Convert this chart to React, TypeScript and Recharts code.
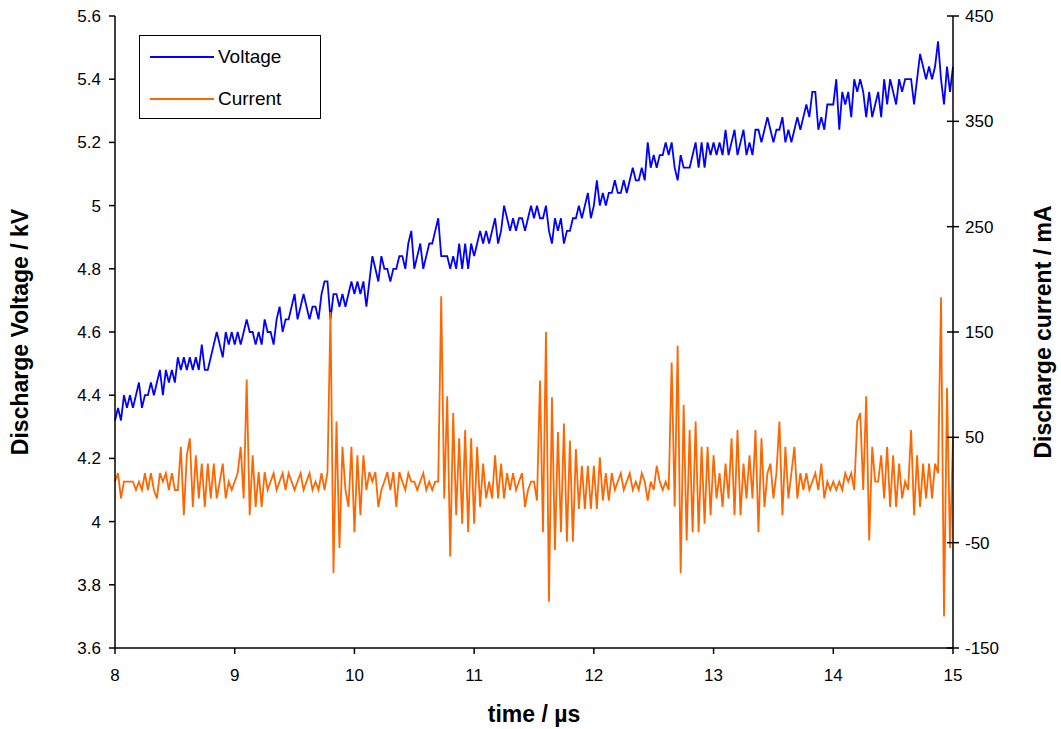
import { LineChart, Line, XAxis, YAxis, Legend } from "recharts";

const FONT = '"Liberation Sans", Arial, sans-serif';

// sampling of the recorded traces
const timeStart = 8;
const timeStep = 0.025;

const xTicks = [8, 9, 10, 11, 12, 13, 14, 15];
const voltageTicks = [3.6, 3.8, 4, 4.2, 4.4, 4.6, 4.8, 5, 5.2, 5.4, 5.6];
const currentTicks = [-150, -50, 50, 150, 250, 350, 450];
const legendOrder = ["Voltage", "Current"];

// discharge voltage, kV
const voltage = [
  4.32, 4.36, 4.32, 4.40, 4.36, 4.40, 4.36, 4.40, 4.44, 4.36, 4.40, 4.40, 4.44, 4.40, 4.44, 4.48, 4.40, 4.48, 4.44, 4.48,
  4.44, 4.52, 4.48, 4.52, 4.48, 4.52, 4.48, 4.52, 4.48, 4.56, 4.48, 4.48, 4.52, 4.56, 4.60, 4.56, 4.52, 4.60, 4.56, 4.60,
  4.56, 4.60, 4.56, 4.60, 4.64, 4.60, 4.60, 4.56, 4.60, 4.56, 4.64, 4.60, 4.60, 4.56, 4.64, 4.68, 4.60, 4.64, 4.64, 4.68,
  4.72, 4.64, 4.68, 4.72, 4.68, 4.64, 4.68, 4.68, 4.64, 4.72, 4.76, 4.76, 4.64, 4.72, 4.72, 4.68, 4.72, 4.68, 4.72, 4.76,
  4.72, 4.76, 4.72, 4.76, 4.68, 4.76, 4.84, 4.80, 4.76, 4.84, 4.80, 4.80, 4.76, 4.80, 4.80, 4.84, 4.84, 4.80, 4.88, 4.92,
  4.80, 4.84, 4.88, 4.80, 4.84, 4.88, 4.88, 4.92, 4.96, 4.84, 4.84, 4.84, 4.80, 4.84, 4.80, 4.88, 4.80, 4.88, 4.80, 4.88,
  4.84, 4.88, 4.92, 4.88, 4.92, 4.88, 4.92, 4.96, 4.88, 4.92, 5.00, 4.96, 4.92, 4.96, 4.92, 4.96, 4.96, 4.92, 4.96, 5.00,
  4.96, 5.00, 4.96, 4.96, 5.00, 4.92, 4.88, 4.96, 4.92, 4.96, 4.88, 4.92, 4.92, 4.96, 4.96, 5.00, 4.96, 5.00, 5.04, 4.96,
  5.00, 5.08, 5.00, 5.04, 5.00, 5.04, 5.04, 5.08, 5.04, 5.04, 5.08, 5.04, 5.08, 5.12, 5.08, 5.08, 5.12, 5.08, 5.20, 5.12,
  5.16, 5.12, 5.16, 5.16, 5.20, 5.16, 5.20, 5.12, 5.08, 5.16, 5.12, 5.12, 5.12, 5.16, 5.20, 5.12, 5.20, 5.12, 5.20, 5.16,
  5.20, 5.16, 5.20, 5.16, 5.24, 5.16, 5.20, 5.24, 5.16, 5.20, 5.24, 5.16, 5.20, 5.16, 5.24, 5.24, 5.20, 5.24, 5.28, 5.24,
  5.20, 5.24, 5.24, 5.28, 5.20, 5.24, 5.20, 5.24, 5.28, 5.24, 5.28, 5.32, 5.28, 5.36, 5.36, 5.24, 5.28, 5.24, 5.32, 5.32,
  5.32, 5.40, 5.24, 5.36, 5.32, 5.36, 5.28, 5.40, 5.36, 5.40, 5.36, 5.28, 5.36, 5.28, 5.32, 5.36, 5.28, 5.40, 5.32, 5.40,
  5.36, 5.32, 5.40, 5.36, 5.40, 5.40, 5.40, 5.32, 5.40, 5.48, 5.44, 5.40, 5.44, 5.40, 5.44, 5.52, 5.40, 5.32, 5.44, 5.36,
  5.44,
];

// discharge current, mA
const current = [
  8, 16, -8, 8, 8, 8, 8, 0, 8, 0, 16, 0, 16, 0, -8, 16, 8, 16, 0, 16,
  0, 0, 41, -24, 33, 49, -16, 33, -8, 25, -16, 25, -8, 25, -8, 8, 25, -8, 8, 0,
  8, 16, 41, -8, 105, -24, 33, -16, 17, -16, 17, 0, 8, 16, 0, 8, 16, 0, 16, 8,
  0, 8, 16, 0, 8, 16, 0, 8, 0, 16, 0, 17, 169, -79, 65, -55, 41, 0, -16, 41,
  -40, 33, -24, 33, 0, 17, 8, 17, -16, 0, 8, 17, 0, 17, -16, 17, 8, 0, 16, 8,
  8, 0, 8, 16, 0, 8, 0, 8, 8, 184, -8, 89, -63, 73, -24, 49, -32, 57, -40, 49,
  -32, 41, -16, 25, -8, 8, -8, 33, -8, 25, -8, 16, 0, 16, 0, 8, 16, -16, 0, 8,
  8, -10, 104, -40, 150, -106, 88, -57, 55, -40, 63, -49, 47, -49, 39, -18, 23, -18, 23, -18,
  23, -18, 31, -10, 16, -10, 16, 0, 8, 16, 0, 8, 16, 0, 8, 0, 16, 8, -10, 8,
  0, 23, 8, 0, 8, 0, 121, -16, 137, -79, 81, -48, 57, -40, 65, -40, 41, -32, 41, -24,
  33, -8, 16, -16, 25, -8, 49, -24, 57, -24, 25, -8, 33, -8, 57, -40, 49, -16, 16, 25,
  -8, 16, 65, -24, 41, -8, 16, 41, -8, 16, 0, 16, 0, 8, 16, 0, 25, -8, 8, 0,
  8, 0, 8, 0, 16, 8, 16, 0, 65, 73, 0, 89, -48, 41, 8, 8, 33, -8, 41, -16,
  33, -16, 25, -8, 8, 0, 57, -24, 33, -16, 25, -8, 25, -8, 25, 16, 183, -120, 97, -55,
  49,
];

const data = voltage.map((v, i) => ({
  t: Number((timeStart + i * timeStep).toFixed(3)),
  voltage: v,
  current: current[i],
}));

// right axis ticks cross the axis line
function RightTick(props: any) {
  const { x, y, payload } = props;
  const ax = x - 12;
  return (
    <g>
      <line x1={ax - 6} x2={ax + 6} y1={y} y2={y} stroke="#000" strokeWidth={1.5} />
      <text x={x} y={y} dy="0.36em" textAnchor="start" fontSize={17} fill="#000" fontFamily={FONT}>
        {payload.value}
      </text>
    </g>
  );
}

function LegendBox(props: any) {
  const items = [...(props.payload || [])].sort(
    (a: any, b: any) => legendOrder.indexOf(a.value) - legendOrder.indexOf(b.value)
  );
  return (
    <div
      style={{
        width: 180,
        height: 82,
        border: "1px solid #000",
        background: "#fff",
        fontFamily: FONT,
        fontSize: 19,
        position: "relative",
      }}
    >
      {items.map((it: any, i: number) => (
        <div
          key={it.value}
          style={{ position: "absolute", left: 10, top: 9 + i * 42, height: 24, display: "flex", alignItems: "center" }}
        >
          <svg width={64} height={4} style={{ display: "block" }}>
            <line x1={0} x2={64} y1={2} y2={2} stroke={it.color} strokeWidth={1.8} />
          </svg>
          <span style={{ marginLeft: 4, color: "#000" }}>{it.value}</span>
        </div>
      ))}
    </div>
  );
}

export default function App() {
  return (
    <div style={{ position: "absolute", left: 0, top: 0, width: 1061, height: 729, background: "#fff" }}>
      <LineChart
        width={1061}
        height={729}
        data={data}
        margin={{ top: 16, right: 0, bottom: 0, left: 0 }}
        style={{ fontFamily: FONT }}
      >
        <XAxis
          dataKey="t"
          type="number"
          domain={[8, 15]}
          ticks={xTicks}
          height={81}
          tickSize={6}
          tickMargin={15}
          stroke="#000"
          axisLine={{ stroke: "#000", strokeWidth: 1.5 }}
          tickLine={{ stroke: "#000", strokeWidth: 1.5 }}
          tick={{ fill: "#000", fontSize: 17 }}
          label={{
            value: "time / µs",
            position: "insideBottom",
            offset: 7,
            style: { fontWeight: "bold", fontSize: 23, fill: "#000" },
          }}
        />
        <YAxis
          yAxisId="v"
          orientation="left"
          width={115}
          domain={[3.6, 5.6]}
          ticks={voltageTicks}
          allowDataOverflow
          tickSize={6}
          tickMargin={8}
          stroke="#000"
          axisLine={{ stroke: "#000", strokeWidth: 1.5 }}
          tickLine={{ stroke: "#000", strokeWidth: 1.5 }}
          tick={{ fill: "#000", fontSize: 17 }}
          label={{
            value: "Discharge Voltage / kV",
            angle: -90,
            position: "insideLeft",
            offset: 20,
            style: { textAnchor: "middle", fontWeight: "bold", fontSize: 23, fill: "#000" },
          }}
        />
        <YAxis
          yAxisId="i"
          orientation="right"
          width={108}
          domain={[-150, 450]}
          ticks={currentTicks}
          allowDataOverflow
          tickSize={6}
          tickMargin={6}
          stroke="#000"
          axisLine={{ stroke: "#000", strokeWidth: 1.5 }}
          tickLine={false}
          tick={RightTick}
          label={{
            value: "Discharge current / mA",
            angle: -90,
            position: "insideRight",
            offset: 18,
            style: { textAnchor: "middle", fontWeight: "bold", fontSize: 23, fill: "#000" },
          }}
        />
        <Legend
          layout="horizontal"
          verticalAlign="middle"
          align="center"
          content={<LegendBox />}
          wrapperStyle={{ left: 139, top: 35, width: 182, height: 84 }}
        />
        <Line
          yAxisId="v"
          type="linear"
          dataKey="voltage"
          name="Voltage"
          stroke="#0000FF"
          strokeWidth={1.8}
          dot={false}
          isAnimationActive={false}
        />
        <Line
          yAxisId="i"
          type="linear"
          dataKey="current"
          name="Current"
          stroke="#FF6600"
          strokeWidth={1.8}
          dot={false}
          isAnimationActive={false}
        />
      </LineChart>
    </div>
  );
}
